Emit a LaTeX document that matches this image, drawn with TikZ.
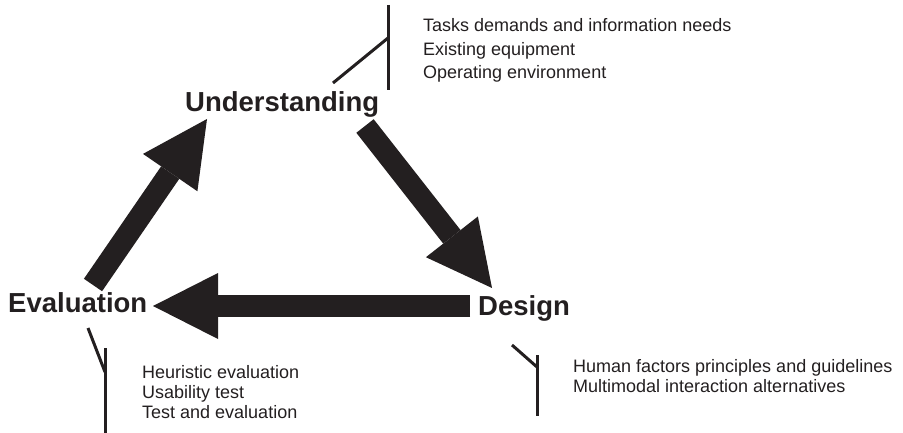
\documentclass[tikz,border=0pt]{standalone}
\usepackage{fontspec}
\setmainfont{Liberation Sans}
\usetikzlibrary{positioning,arrows.meta}
\definecolor{ink}{HTML}{231F20}

\begin{document}
\begin{tikzpicture}[x=1pt, y=-1pt,
	stage/.style={font=\fontsize{27.5}{30}\selectfont\bfseries, text=ink,
	inner sep=0pt, anchor=base west},
	note/.style={font=\fontsize{18}{20}\selectfont, text=ink,
	inner sep=0pt, align=left, anchor=base west},
	bigarrow/.style={draw=ink, line width=22pt,
	-{Triangle[width=66pt, length=65pt, line width=0pt]}},
	tick/.style={draw=ink, line width=3pt}
	]
	\useasboundingbox (0,0) rectangle (903,433);
	\node[stage] (u) at (185,112) {Understanding};
	\node[stage] (e) at (8,312) {Evaluation};
	\node[stage] (d) at (478,315) {Design};
	
	% base of a note is the baseline of its last line
	\node[note, font=\fontsize{18}{23.5}\selectfont] (tasks) at (423,79)
	{Tasks demands and information needs\\Existing equipment\\Operating environment};
	\node[note] (heur) at (142,418)
	{Heuristic evaluation\\Usability test\\Test and evaluation};
	\node[note, font=\fontsize{18}{19.5}\selectfont] (human) at (573,392)
	{Human factors principles and guidelines\\Multimodal interaction alternatives};
	
	\coordinate (ea) at (93,285);
	\coordinate (ub) at (207,119);
	\coordinate (ua) at (365,126);
	\coordinate (db) at (492,288);
	\coordinate (da) at (470,306);
	\coordinate (eb) at (153,306);
	\draw[bigarrow] (ea) -- (ub);
	\draw[bigarrow] (ua) -- (db);
	\draw[bigarrow] (da) -- (eb);
	
	\coordinate (t1) at (388,5);
	\coordinate (t2) at (388,90);
	\coordinate (t3) at (388,38);
	\coordinate (t4) at (333,83);
	\draw[tick] (t1) -- (t2);
	\draw[tick] (t4) -- (t3);
	
	\coordinate (h1) at (105,348);
	\coordinate (h2) at (105,433);
	\coordinate (h3) at (105,372);
	\coordinate (h4) at (88,328);
	\draw[tick] (h1) -- (h2);
	\draw[tick] (h4) -- (h3);
	
	\coordinate (m1) at (537,355);
	\coordinate (m2) at (537,416);
	\coordinate (m3) at (537,367);
	\coordinate (m4) at (512,345);
	\draw[tick] (m1) -- (m2);
	\draw[tick] (m4) -- (m3);
\end{tikzpicture}
\end{document}
